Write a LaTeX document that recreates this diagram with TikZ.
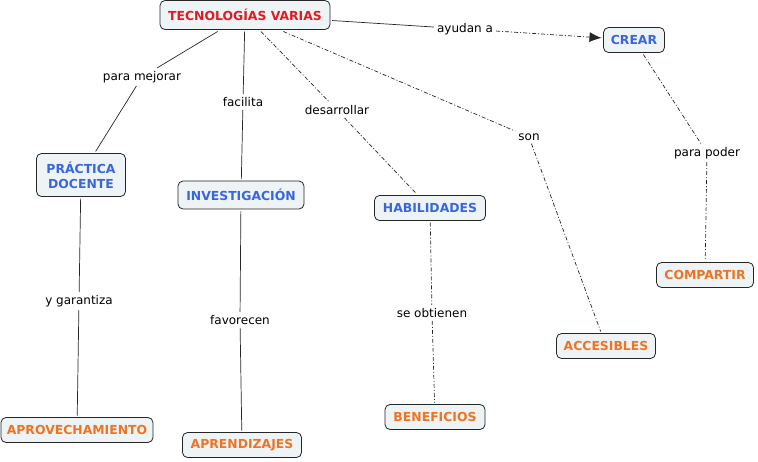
\documentclass[tikz,border=0pt]{standalone}
\usepackage{fontspec}
\setmainfont{DejaVu Sans}
\usetikzlibrary{arrows.meta}
\definecolor{conceptfill}{HTML}{EEF3F6}
\definecolor{tvred}{HTML}{E01B22}
\definecolor{cblue}{HTML}{3A66DD}
\definecolor{corange}{HTML}{EE7421}

\begin{document}
\begin{tikzpicture}[x=1pt,y=-1pt,
  concept/.style={draw=black!85,fill=conceptfill,rounded corners=5pt,line width=0.8pt,
    font=\fontsize{12.4}{15}\selectfont\bfseries,inner xsep=2pt,minimum height=25pt,align=center,outer sep=2pt},
  linklabel/.style={font=\fontsize{12}{14}\selectfont,inner sep=3pt},
  solidlink/.style={draw=black!85,line width=0.7pt},
  dashdotlink/.style={draw=black!85,line width=0.7pt,dash pattern=on 4pt off 2pt on 1pt off 2pt}]
\useasboundingbox (0,0) rectangle (758,461);
\node[concept,text=tvred,minimum height=29pt,minimum width=170pt] (tv) at (245,15) {TECNOLOGÍAS VARIAS};
\node[concept,text=cblue,minimum width=61pt] (crear) at (634,40) {CREAR};
\node[concept,text=cblue,minimum height=43pt,minimum width=89pt] (practica) at (81,175) {PRÁCTICA\\DOCENTE};
\node[concept,text=cblue,minimum height=28pt,minimum width=126pt] (investigacion) at (241,195) {INVESTIGACIÓN};
\node[concept,text=cblue,minimum width=111pt] (habilidades) at (430,208) {HABILIDADES};
\node[concept,text=corange,minimum width=97pt] (compartir) at (705,275) {COMPARTIR};
\node[concept,text=corange,minimum width=99pt] (accesibles) at (606,346) {ACCESIBLES};
\node[concept,text=corange,minimum width=152pt] (aprovechamiento) at (77,430) {APROVECHAMIENTO};
\node[concept,text=corange,minimum width=119pt] (aprendizajes) at (242,445) {APRENDIZAJES};
\node[concept,text=corange,minimum width=100pt] (beneficios) at (435,417) {BENEFICIOS};
\node[linklabel] (mejorar) at (142,77) {para mejorar};
\node[linklabel] (facilita) at (243,102) {facilita};
\node[linklabel] (desarrollar) at (337,110) {desarrollar};
\node[linklabel] (son) at (529,137) {son};
\node[linklabel] (ayudan) at (465,29) {ayudan a};
\node[linklabel] (poder) at (707,153) {para poder};
\node[linklabel] (garantiza) at (79,301) {y garantiza};
\node[linklabel] (favorecen) at (240,320) {favorecen};
\node[linklabel] (obtienen) at (432,313) {se obtienen};
\draw[solidlink] (tv) -- (mejorar) -- (practica);
\draw[solidlink] (tv) -- (facilita) -- (investigacion);
\draw[dashdotlink] (tv) -- (desarrollar) -- (habilidades);
\draw[dashdotlink] (tv) -- (son) -- (accesibles);
\draw[solidlink] (tv) -- (ayudan);
\draw[dashdotlink,-{Latex[length=12pt,width=10pt]}] (ayudan) -- (crear);
\draw[dashdotlink] (crear) -- (poder) -- (compartir);
\draw[solidlink] (practica) -- (garantiza) -- (aprovechamiento);
\draw[solidlink] (investigacion) -- (favorecen) -- (aprendizajes);
\draw[dashdotlink] (habilidades) -- (obtienen) -- (beneficios);
\end{tikzpicture}
\end{document}
